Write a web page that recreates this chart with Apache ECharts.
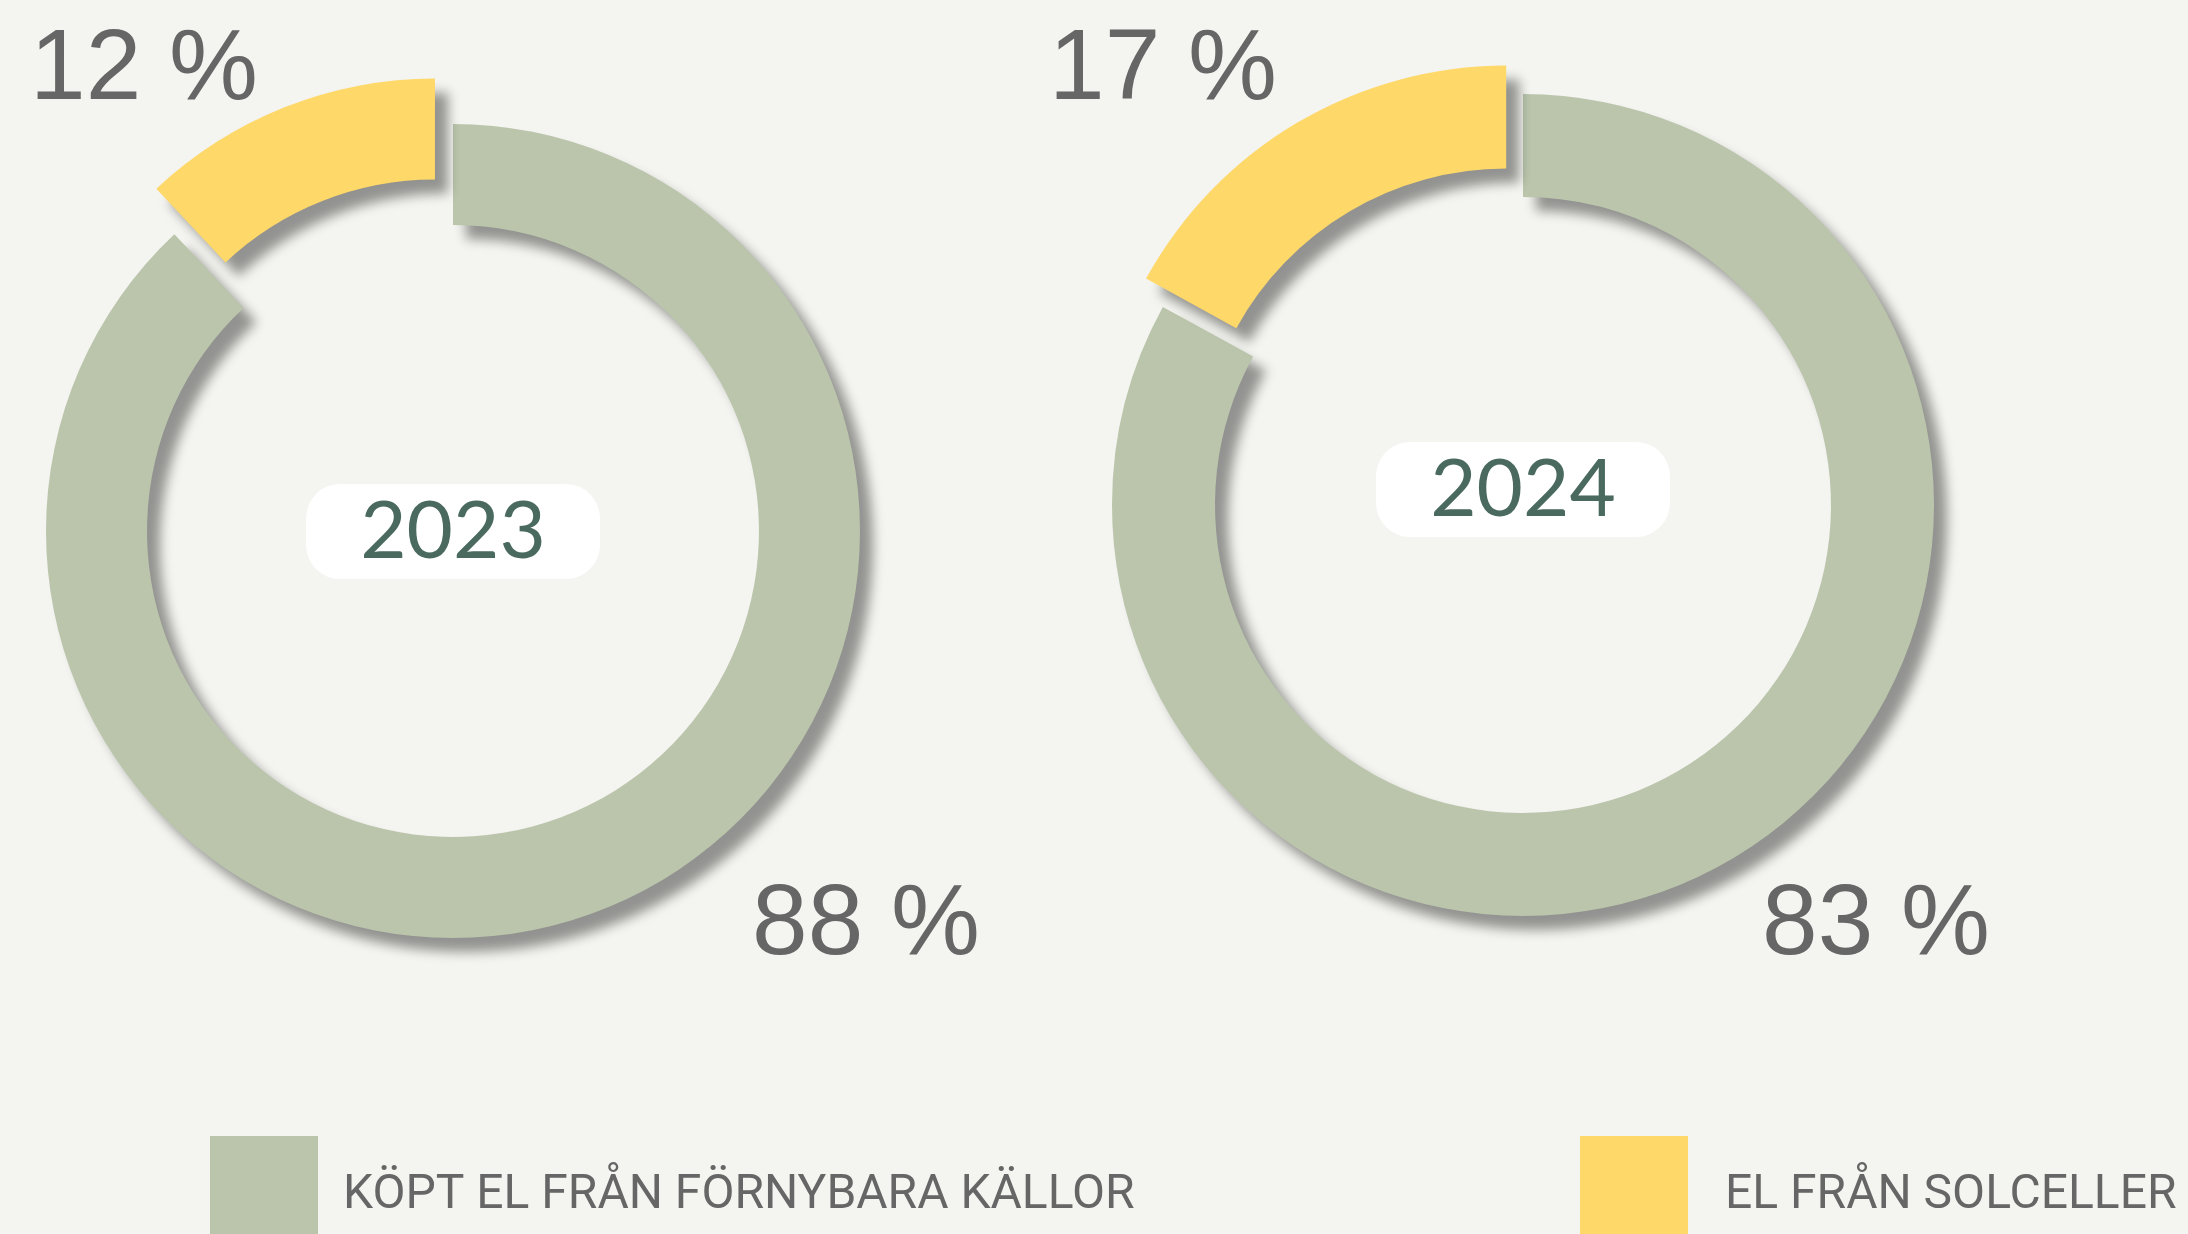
<!DOCTYPE html>
<html>
<head>
<meta charset="utf-8">
<script src="https://cdn.jsdelivr.net/npm/echarts@6/dist/echarts.min.js"></script>
<style>
html,body{margin:0;padding:0;background:#F4F4F0;}
#chart{width:2188px;height:1234px;}
</style>
</head>
<body>
<div id="chart"></div>
<script>
const years = ['2023', '2024'];
const categories = ['KÖPT EL FRÅN FÖRNYBARA KÄLLOR', 'EL FRÅN SOLCELLER'];
const purchasedShare = [88, 83];
const solarShare = [12, 17];
const colors = ['#BAC5AC', '#FED868'];

const layout = [
  { center: [453, 531], radius: [306, 407], offset: 49,
    yearBox: [306, 484, 294, 95], yearText: [453, 532],
    solarLabel: [144, 71], purchLabel: [866, 926] },
  { center: [1523, 505], radius: [308, 411], offset: 33,
    yearBox: [1376, 442, 294, 95], yearText: [1523, 490],
    solarLabel: [1163, 71], purchLabel: [1876, 926] }
];

const shadow = { shadowBlur: 12, shadowColor: 'rgba(0,0,0,0.40)', shadowOffsetX: 13, shadowOffsetY: 14 };

const series = years.map((y, i) => ({
  type: 'pie',
  name: y,
  center: layout[i].center,
  radius: layout[i].radius,
  startAngle: 90,
  clockwise: true,
  selectedMode: 'single',
  selectedOffset: layout[i].offset,
  label: { show: false },
  labelLine: { show: false },
  emphasis: { scale: false, disabled: true },
  silent: true,
  animation: false,
  data: [
    { name: categories[0], value: purchasedShare[i],
      itemStyle: Object.assign({ color: colors[0] }, shadow),
      select: { itemStyle: { color: colors[0] } } },
    { name: categories[1], value: solarShare[i], selected: true,
      itemStyle: Object.assign({ color: colors[1] }, shadow),
      select: { itemStyle: Object.assign({ color: colors[1] }, shadow) } }
  ]
}));

const graphics = [];
years.forEach((y, i) => {
  const L = layout[i];
  graphics.push({
    type: 'rect', silent: true,
    shape: { x: L.yearBox[0], y: L.yearBox[1], width: L.yearBox[2], height: L.yearBox[3], r: 34 },
    style: { fill: '#FFFFFF' }, z: 10
  });
  graphics.push({
    type: 'text', silent: true, z: 11,
    x: L.yearText[0], y: L.yearText[1],
    style: { text: y, fill: '#4A6A60', font: '400 80px Lato', align: 'center', verticalAlign: 'middle' }
  });
  graphics.push({
    type: 'text', silent: true, z: 11,
    x: L.solarLabel[0], y: L.solarLabel[1],
    style: { text: solarShare[i] + ' %', fill: '#666666', font: '100px "Liberation Sans"', align: 'center', verticalAlign: 'middle' }
  });
  graphics.push({
    type: 'text', silent: true, z: 11,
    x: L.purchLabel[0], y: L.purchLabel[1],
    style: { text: purchasedShare[i] + ' %', fill: '#666666', font: '100px "Liberation Sans"', align: 'center', verticalAlign: 'middle' }
  });
});

const legendCommon = {
  top: 1136, itemWidth: 108, itemHeight: 120, selectedMode: false, icon: 'rect', orient: 'horizontal', padding: 0,
  itemStyle: { shadowBlur: 0, shadowColor: 'rgba(0,0,0,0)', shadowOffsetX: 0, shadowOffsetY: 0 },
};

const option = {
  backgroundColor: '#F4F4F0',
  animation: false,
  legend: [
    Object.assign({}, legendCommon, { left: 210, data: [categories[0]],
      textStyle: { fontFamily: 'Roboto', fontSize: 48, color: '#666666', padding: [0, 0, 0, 20] } }),
    Object.assign({}, legendCommon, { left: 1580, data: [categories[1]],
      textStyle: { fontFamily: 'Roboto', fontSize: 48, color: '#666666', padding: [0, 0, 0, 32] } })
  ],
  series: series,
  graphic: graphics
};

const chart = echarts.init(document.getElementById('chart'), null, { renderer: 'canvas' });
chart.setOption(option);
</script>
</body>
</html>
